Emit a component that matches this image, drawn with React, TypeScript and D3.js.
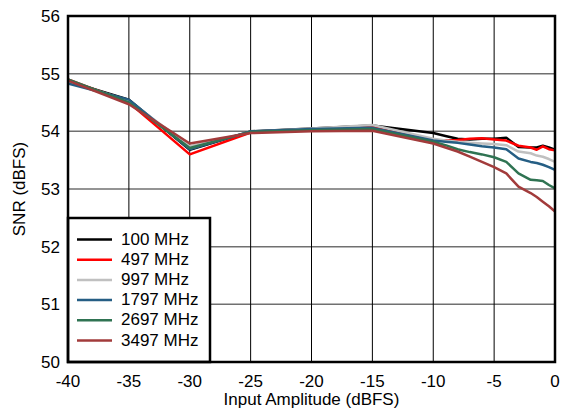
import React from "react";
import * as d3 from "d3";

const xs = [-40, -35, -30, -25, -20, -15, -10, -9, -8, -7, -6, -5, -4, -3, -2, -1.5, -1, -0.5, 0];
const s100 = [54.87, 54.55, 53.68, 54.0, 54.05, 54.1, 53.97, 53.92, 53.87, 53.86, 53.87, 53.87, 53.89, 53.73, 53.72, 53.72, 53.75, 53.72, 53.68];
const s497 = [54.9, 54.5, 53.6, 53.98, 54.03, 54.07, 53.84, 53.84, 53.85, 53.87, 53.88, 53.86, 53.84, 53.75, 53.72, 53.68, 53.74, 53.69, 53.67];
const s997 = [54.86, 54.53, 53.74, 53.99, 54.05, 54.11, 53.87, 53.84, 53.82, 53.8, 53.79, 53.78, 53.76, 53.65, 53.62, 53.58, 53.56, 53.52, 53.47];
const s1797 = [54.83, 54.55, 53.69, 54.0, 54.04, 54.06, 53.84, 53.82, 53.8, 53.77, 53.74, 53.72, 53.69, 53.53, 53.47, 53.45, 53.42, 53.38, 53.33];
const s2697 = [54.9, 54.5, 53.71, 53.99, 54.02, 54.04, 53.82, 53.76, 53.69, 53.64, 53.6, 53.55, 53.47, 53.27, 53.16, 53.15, 53.14, 53.07, 53.01];
const s3497 = [54.88, 54.47, 53.79, 53.97, 54.0, 54.01, 53.79, 53.72, 53.65, 53.56, 53.47, 53.38, 53.27, 53.04, 52.93, 52.86, 52.78, 52.7, 52.61];

const seriesNames = ["100 MHz", "497 MHz", "997 MHz", "1797 MHz", "2697 MHz", "3497 MHz"];
const seriesValues = [s100, s497, s997, s1797, s2697, s3497];
const seriesColors = ["#000000", "#ff0000", "#c0c0c0", "#255e84", "#2f7352", "#a23b3b"];

const xTicks = [-40, -35, -30, -25, -20, -15, -10, -5, 0];
const yTicks = [50, 51, 52, 53, 54, 55, 56];

export default function App() {
  const W = 561, H = 411;
  const left = 68, right = 555, top = 16, bottom = 362;
  const x = d3.scaleLinear().domain([-40, 0]).range([left, right]);
  const y = d3.scaleLinear().domain([50, 56]).range([bottom, top]);
  const line = d3.line<number>().x((_, i) => x(xs[i])).y((d) => y(d));
  const font = "'Liberation Sans', Arial, sans-serif";
  const legX = 68, legY = 218, legW = 142, legH = 144;
  return (
    <svg width={W} height={H} style={{ position: "absolute", left: 0, top: 0 }} fontFamily={font}>
      <rect x={0} y={0} width={W} height={H} fill="#fff" />
      {yTicks.slice(1, -1).map((t) => (
        <line key={"h" + t} x1={left} x2={right} y1={y(t)} y2={y(t)} stroke="#707070" strokeWidth={1.5} />
      ))}
      {xTicks.slice(1, -1).map((t) => (
        <line key={"v" + t} x1={x(t)} x2={x(t)} y1={top} y2={bottom} stroke="#000" strokeWidth={1} />
      ))}
      {seriesValues.map((vals, i) => (
        <path key={"s" + i} d={line(vals) || ""} fill="none" stroke={seriesColors[i]} strokeWidth={2.5} strokeLinejoin="round" />
      ))}
      <rect x={legX} y={legY} width={legW} height={legH} fill="#fff" stroke="#000" strokeWidth={2.5} />
      {seriesNames.map((n, i) => {
        const ly = 239.5 + i * 20.2;
        return (
          <g key={"l" + i}>
            <line x1={77} x2={112} y1={ly} y2={ly} stroke={seriesColors[i]} strokeWidth={2.5} />
            <text x={121} y={ly + 5} fontSize={17} fill="#000">{n}</text>
          </g>
        );
      })}
      <rect x={left} y={top} width={right - left} height={bottom - top} fill="none" stroke="#000" strokeWidth={2.5} />
      {yTicks.map((t) => (
        <text key={"yt" + t} x={left - 8} y={y(t) + 6} textAnchor="end" fontSize={17} fill="#000">{t}</text>
      ))}
      {xTicks.map((t) => (
        <text key={"xt" + t} x={x(t)} y={bottom + 25} textAnchor="middle" fontSize={17} fill="#000">{t}</text>
      ))}
      <text x={(left + right) / 2} y={405} textAnchor="middle" fontSize={17} fill="#000">Input Amplitude (dBFS)</text>
      <text transform={`translate(25, ${(top + bottom) / 2}) rotate(-90)`} textAnchor="middle" fontSize={17} fill="#000">SNR (dBFS)</text>
    </svg>
  );
}
